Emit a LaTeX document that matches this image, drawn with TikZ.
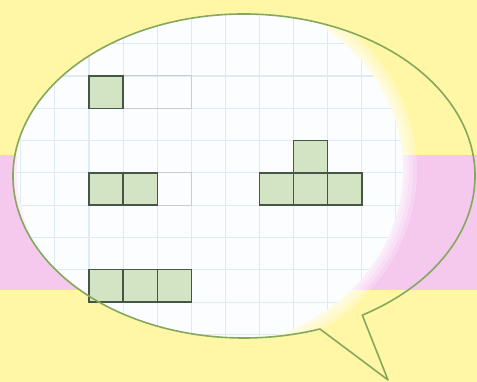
\documentclass[tikz,border=0pt]{standalone}
\usetikzlibrary{calc}
\definecolor{PadYellow}{HTML}{FFF6A6}
\definecolor{PadPink}{HTML}{F5C8EE}
\definecolor{GridBlue}{HTML}{E0EAF2}
\definecolor{TileGreen}{HTML}{D3E4C5}
\definecolor{TileEdge}{HTML}{465646}
\definecolor{BubbleEdge}{HTML}{84A85C}
\definecolor{PaperWhite}{HTML}{FBFDFE}

\begin{document}
\begin{tikzpicture}[x=1pt, y=1pt,
        tile/.style={fill=TileGreen, draw=TileEdge, line width=1.4pt},
        ghost/.style={draw=black!20, line width=1pt},
        gridline/.style={draw=GridBlue, line width=1.1pt},
        bubble/.style={draw=BubbleEdge, line width=1.6pt, line join=round}
    ]
        % background bands
        \fill[PadYellow] (0,0) rectangle (477,382);
        \fill[PadPink] (0,92) rectangle (477,227);
        \useasboundingbox (0,0) rectangle (477,382);
        \coordinate (ctr) at (244,206);
        \coordinate (paper) at (210,212);
        \coordinate (tip) at (388,2);

        % squared paper inside the bubble, soft edge
        \begin{scope}
            \clip (ctr) ellipse [x radius=231, y radius=162];
            \foreach \g in {14,10,6,3}
                \fill[white, opacity=0.25] (paper) ellipse [x radius=193+\g, y radius=176+\g];
            \fill[PaperWhite] (paper) ellipse [x radius=193, y radius=176];
            \clip (paper) ellipse [x radius=193, y radius=176];
            \begin{scope}[shift={(89,306)}, x=34.1pt, y=-32.3pt]
                \foreach \c in {-3,...,10} \draw[gridline] (\c,-3) -- (\c,9);
                \foreach \r in {-3,...,9} \draw[gridline] (-3,\r) -- (10,\r);
            \end{scope}
        \end{scope}

        % the pieces
        \begin{scope}[shift={(89,306)}, x=34.1pt, y=-32.3pt]
            \draw[ghost] (0,0) rectangle (3,1);
            \draw[ghost] (0,3) rectangle (3,4);
            \foreach \c/\r in {0/0, 0/3, 1/3, 0/6, 1/6, 2/6, 6/2, 5/3, 6/3, 7/3}
                \draw[tile] (\c,\r) rectangle ++(1,1);
        \end{scope}

        % bubble outline with its tail
        \draw[bubble] ($(ctr)+(-59.2:231 and 162)$)
            arc[start angle=-59.2, end angle=289.2, x radius=231, y radius=162]
            -- (tip) -- cycle;
    \end{tikzpicture}
\end{document}
